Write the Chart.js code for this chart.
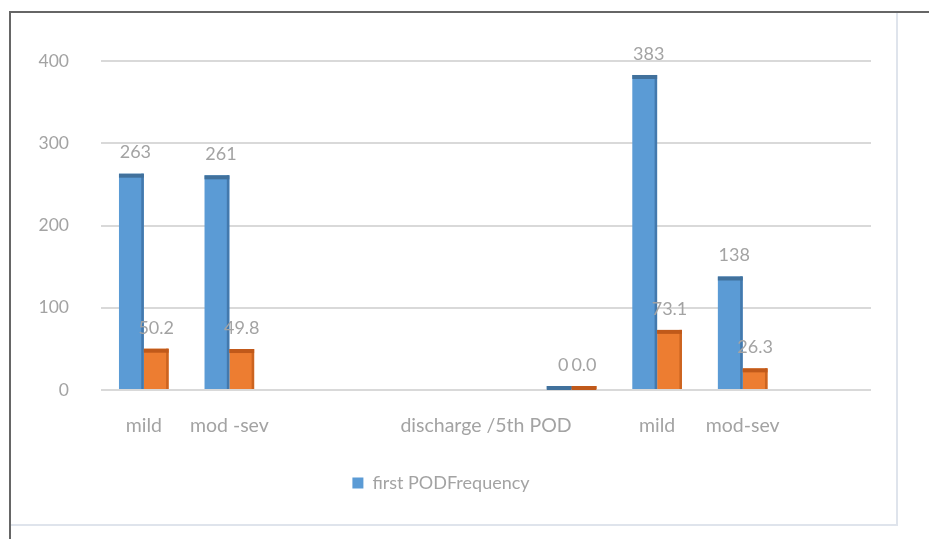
<!DOCTYPE html>
<html>
<head>
<meta charset="utf-8">
<script src="https://cdn.jsdelivr.net/npm/chart.js@4.4.1/dist/chart.umd.min.js"></script>
<style>
  body { margin: 0; background: #fff; }
  .outer {
    position: absolute; left: 9px; top: 11px; width: 925px; height: 535px;
    border-top: 2px solid #666; border-left: 2px solid #666;
  }
  .box {
    position: absolute; left: 11px; top: 13px; width: 885px; height: 511px;
    border: 2px solid #dfe4ec; border-top: none; border-left: none;
  }
  canvas { position: absolute; left: 0; top: 0; }
</style>
</head>
<body>
<div class="outer"></div>
<div class="box">
  <canvas id="chart" width="885" height="511"></canvas>
</div>
<script>
  // values
  const categories = ['mild', 'mod -sev', '', '', 'discharge /5th POD', '', 'mild', 'mod-sev', ''];
  const firstPod = [263, 261, null, null, null, 0, 383, 138, null];
  const secondPod = [50.2, 49.8, null, null, null, 0.0, 73.1, 26.3, null];
  const yTicks = [0, 100, 200, 300, 400];

  const grey = '#a3a3a3';
  const fontName = 'Lato, "Open Sans", sans-serif';

  // darker top and side faces, like the old 3d bars
  const barFaces = {
    id: 'barFaces',
    afterDatasetsDraw(chart) {
      const ctx = chart.ctx;
      chart.data.datasets.forEach((ds, i) => {
        const meta = chart.getDatasetMeta(i);
        meta.data.forEach((bar, j) => {
          if (ds.data[j] === null) return;
          const left = bar.x - bar.width / 2;
          const top = Math.min(bar.y, bar.base);
          ctx.save();
          ctx.fillStyle = ds.sideColor;
          ctx.fillRect(left + bar.width - 2.5, top, 2.5, Math.abs(bar.base - bar.y));
          ctx.fillStyle = ds.topColor;
          ctx.fillRect(left, top, bar.width, 4);
          ctx.restore();
        });
      });
    }
  };

  const valueLabels = {
    id: 'valueLabels',
    afterDatasetsDraw(chart) {
      const ctx = chart.ctx;
      ctx.save();
      ctx.fillStyle = grey;
      ctx.font = '18px ' + fontName;
      ctx.textAlign = 'center';
      ctx.textBaseline = 'bottom';
      chart.data.datasets.forEach((ds, i) => {
        const meta = chart.getDatasetMeta(i);
        meta.data.forEach((bar, j) => {
          const v = ds.data[j];
          if (v === null) return;
          ctx.fillText(ds.fmt(v), bar.x + ds.labelShift, bar.y - 12);
        });
      });
      ctx.restore();
    }
  };

  new Chart(document.getElementById('chart'), {
    type: 'bar',
    data: {
      labels: categories,
      datasets: [
        {
          label: 'first PODFrequency',
          data: firstPod,
          backgroundColor: '#5b9bd5',
          topColor: '#41719c',
          sideColor: '#4379ad',
          fmt: v => String(v),
          labelShift: 4,
          minBarLength: 4,
          categoryPercentage: 0.58,
          barPercentage: 1
        },
        {
          label: 'Percent',
          data: secondPod,
          backgroundColor: '#ed7d31',
          topColor: '#c0591a',
          sideColor: '#cc6420',
          fmt: v => v.toFixed(1),
          labelShift: 0,
          minBarLength: 4,
          categoryPercentage: 0.58,
          barPercentage: 1
        }
      ]
    },
    options: {
      responsive: false,
      animation: false,
      layout: { padding: { top: 48, right: 25, bottom: 22, left: 0 } },
      scales: {
        x: {
          grid: { display: false },
          border: { display: false },
          ticks: {
            color: grey,
            font: { family: fontName, size: 19.5 },
            padding: 16,
            maxRotation: 0,
            autoSkip: false
          },
          afterFit: s => { s.height = 74; }
        },
        y: {
          min: 0,
          max: 400,
          afterBuildTicks: s => { s.ticks = yTicks.map(v => ({ value: v })); },
          afterFit: s => { s.width = 90; },
          grid: { color: '#d9d9d9', lineWidth: 2, drawTicks: false },
          border: { display: false },
          ticks: {
            color: grey,
            font: { family: fontName, size: 17.5 },
            padding: 32
          }
        }
      },
      plugins: {
        legend: {
          position: 'bottom',
          labels: {
            color: grey,
            font: { family: fontName, size: 18 },
            boxWidth: 11,
            boxHeight: 11,
            padding: 10,
            filter: item => item.datasetIndex === 0
          }
        },
        tooltip: { enabled: false }
      }
    },
    plugins: [barFaces, valueLabels]
  });
</script>
</body>
</html>
